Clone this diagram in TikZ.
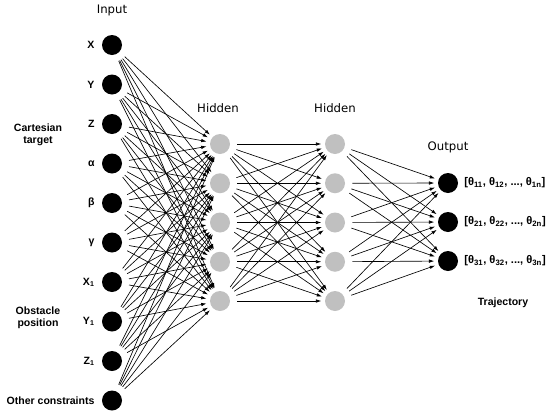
\documentclass[tikz,border=0pt]{standalone}
\usepackage{fontspec}
\setmainfont{Liberation Sans}
\newfontfamily\headfont{DejaVu Sans}
\usetikzlibrary{positioning, arrows.meta, calc}
\definecolor{hiddengray}{HTML}{C0C0C0}

\begin{document}
\begin{tikzpicture}[x=0.03cm, y=-0.03cm,
  neuron/.style={circle, fill=black, inner sep=0pt, minimum size=0.6cm},
  hidneuron/.style={neuron, fill=hiddengray},
  inlabel/.style={font=\fontsize{9}{10}\selectfont\bfseries, inner sep=0pt},
  outlabel/.style={font=\fontsize{9.5}{10}\selectfont\bfseries, inner sep=0pt},
  title/.style={font=\headfont\fontsize{10}{11}\selectfont},
  conn/.style={line width=0.55pt, -{Latex[length=4.5pt, width=3pt]},
               shorten <=6pt, shorten >=3pt}]
  \useasboundingbox (0,0) rectangle (550,414);

  % layers
  \foreach \lab [count=\i] in {X, Y, Z, α, β, γ, X\textsubscript{1},
      Y\textsubscript{1}, Z\textsubscript{1}, Other constraints}
    \node[neuron, label={[inlabel, label distance=6pt]left:\lab}]
      (in-\i) at (112, {45+39.5*(\i-1)}) {};
  \foreach \j in {1,...,5} {
    \node[hidneuron] (ha-\j) at (220, {144+39.25*(\j-1)}) {};
    \node[hidneuron] (hb-\j) at (335, {144+39.25*(\j-1)}) {};
  }
  \foreach \k in {1,2,3}
    \node[neuron, label={[outlabel, label distance=5pt]right:%
      [θ\textsubscript{\k1}, θ\textsubscript{\k2}, ..., θ\textsubscript{\k n}]}]
      (out-\k) at (448, {183+39*(\k-1)}) {};

  % titles
  \node[title] (t-in) at (112, 10) {Input};
  \node[title] (t-ha) at (218, 108) {Hidden};
  \node[title] (t-hb) at (335, 108) {Hidden};
  \node[title] (t-out) at (448, 147) {Output};
  \node[inlabel, align=center] (cart) at (38, 135) {Cartesian\\target};
  \node[inlabel, align=center] (obst) at (38, 318) {Obstacle\\position};
  \node[inlabel] (traj) at (503, 303) {Trajectory};

  % connections
  \foreach \i in {1,...,10}
    \foreach \j in {1,...,5}
      \draw[conn] (in-\i) -- (ha-\j);
  \foreach \i in {1,...,5}
    \foreach \j in {1,...,5}
      \draw[conn] (ha-\i) -- (hb-\j);
  \foreach \i in {1,...,5}
    \foreach \k in {1,2,3}
      \draw[conn] (hb-\i) -- (out-\k);
\end{tikzpicture}
\end{document}
